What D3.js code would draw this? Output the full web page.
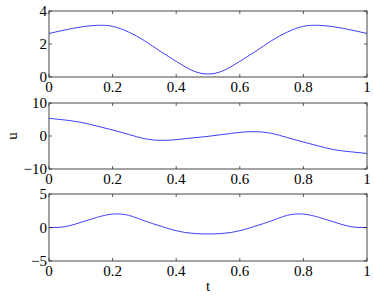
<!DOCTYPE html>
<html>
<head>
<meta charset="utf-8">
<script src="https://cdn.jsdelivr.net/npm/d3@7"></script>
<style>
  body { margin: 0; background: #fff; }
</style>
</head>
<body>
<script>
// time samples
const tValues = [0, 0.05, 0.1, 0.15, 0.2, 0.25, 0.3, 0.35, 0.4, 0.45, 0.5,
                 0.55, 0.6, 0.65, 0.7, 0.75, 0.8, 0.85, 0.9, 0.95, 1];
// series
const topSeries = [2.64, 2.85, 3.03, 3.13, 3.07, 2.73, 2.2, 1.56, 0.95, 0.4, 0.18,
                   0.4, 0.95, 1.56, 2.2, 2.73, 3.07, 3.13, 3.03, 2.85, 2.64];
const uSeries = [5.36, 4.85, 4.14, 3.03, 1.82, 0.5, -0.8, -1.31, -1.1, -0.6, -0.1,
                 0.5, 1.1, 1.3, 0.8, -0.5, -1.82, -3.1, -4.2, -4.8, -5.3];
const bottomSeries = [0, 0.12, 0.77, 1.5, 2.0, 1.82, 1.0, 0.22, -0.48, -0.87, -0.97,
                      -0.87, -0.48, 0.22, 1.0, 1.82, 2.0, 1.5, 0.77, 0.12, 0];
const xTicks = [0, 0.2, 0.4, 0.6, 0.8, 1];
const yTicksTop = [0, 2, 4];
const yTicksMid = [-10, 0, 10];
const yTicksBot = [-5, 0, 5];

const width = 374, height = 296;
const left = 49, right = 367;

const panels = [
  {data: topSeries, domain: [0, 4], ticks: yTicksTop, top: 11, bottom: 77},
  {data: uSeries, domain: [-10, 10], ticks: yTicksMid, top: 103, bottom: 169},
  {data: bottomSeries, domain: [-5, 5], ticks: yTicksBot, top: 194, bottom: 261}
];

const svg = d3.select("body").append("svg")
  .attr("width", width)
  .attr("height", height)
  .style("font-family", "Liberation Serif")
  .style("font-size", "15px");

const x = d3.scaleLinear().domain([0, 1]).range([left, right]);
const fmt = v => v < 0 ? "\u2212" + Math.abs(v) : String(v);
const tickLen = 3;

panels.forEach(p => {
  const y = d3.scaleLinear().domain(p.domain).range([p.bottom, p.top]);
  const g = svg.append("g");

  // data line
  const line = d3.line()
    .x((d, i) => x(tValues[i]))
    .y(d => y(d))
    .curve(d3.curveNatural);
  g.append("path")
   .datum(p.data)
   .attr("d", line)
   .attr("fill", "none")
   .attr("stroke", "#2a2aff")
   .attr("stroke-width", 0.9);

  // ticks (inward, all four sides)
  xTicks.forEach(t => {
    g.append("line").attr("x1", x(t)).attr("x2", x(t))
     .attr("y1", p.bottom).attr("y2", p.bottom - tickLen)
     .attr("stroke", "#333").attr("stroke-width", 0.8);
    g.append("line").attr("x1", x(t)).attr("x2", x(t))
     .attr("y1", p.top).attr("y2", p.top + tickLen)
     .attr("stroke", "#333").attr("stroke-width", 0.8);
    g.append("text")
     .attr("x", x(t)).attr("y", p.bottom + 15)
     .attr("text-anchor", "middle")
     .style("font-family", "Liberation Serif")
     .text(t);
  });
  p.ticks.forEach(v => {
    g.append("line").attr("x1", left).attr("x2", left + tickLen)
     .attr("y1", y(v)).attr("y2", y(v))
     .attr("stroke", "#333").attr("stroke-width", 0.8);
    g.append("line").attr("x1", right).attr("x2", right - tickLen)
     .attr("y1", y(v)).attr("y2", y(v))
     .attr("stroke", "#333").attr("stroke-width", 0.8);
    g.append("text")
     .attr("x", left - 2).attr("y", y(v) + 5)
     .attr("text-anchor", "end")
     .style("font-family", "Liberation Serif")
     .text(fmt(v));
  });

  // box outline
  g.append("rect")
   .attr("x", left).attr("y", p.top)
   .attr("width", right - left).attr("height", p.bottom - p.top)
   .attr("fill", "none")
   .attr("stroke", "#333").attr("stroke-width", 0.9);
});

// axis labels
svg.append("text")
   .attr("transform", "translate(17,136) rotate(-90)")
   .attr("text-anchor", "middle")
   .style("font-family", "Liberation Serif")
   .text("u");
svg.append("text")
   .attr("x", (left + right) / 2).attr("y", 291)
   .attr("text-anchor", "middle")
   .style("font-family", "Liberation Serif")
   .text("t");
</script>
</body>
</html>
